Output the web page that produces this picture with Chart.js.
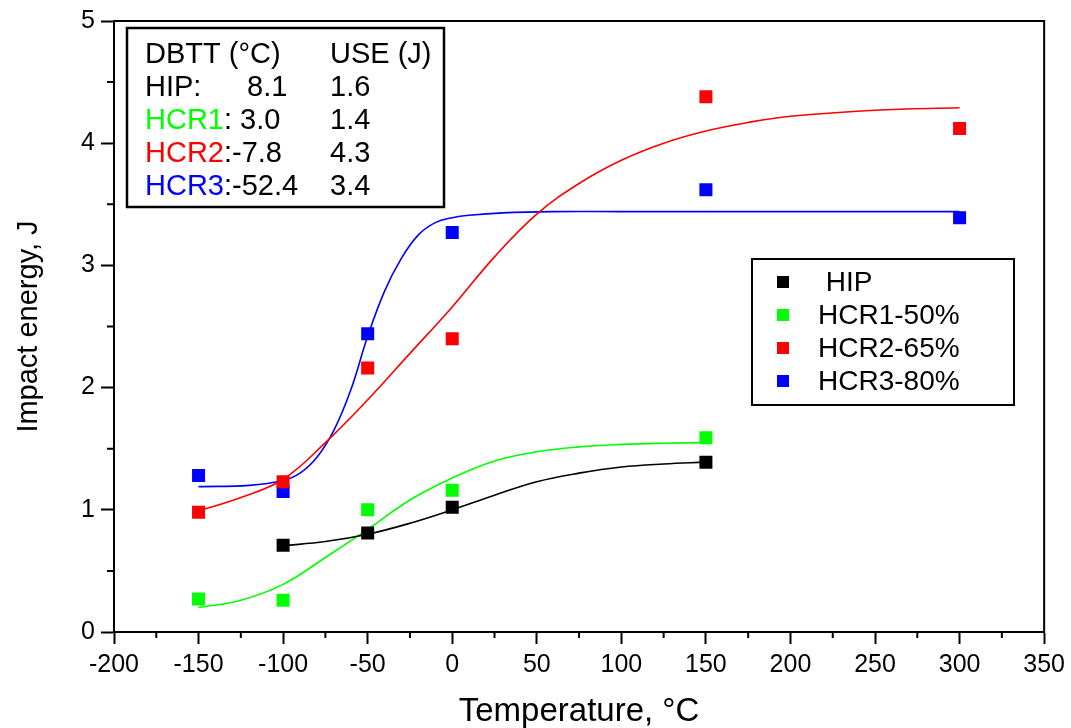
<!DOCTYPE html>
<html>
<head>
<meta charset="utf-8">
<script src="https://cdn.jsdelivr.net/npm/chart.js@4/dist/chart.umd.min.js"></script>
<style>
    html, body { margin: 0; padding: 0; background: #fff; }
    #wrap { width: 1071px; height: 728px; }
</style>
</head>
<body>
<div id="wrap"><canvas id="ImpactChart" width="1071" height="728"></canvas></div>
<script>
// measured points
const hipT = [-100, -50, 0, 150];
const hipE = [0.71, 0.81, 1.02, 1.39];
const hcr1T = [-150, -100, -50, 0, 150];
const hcr1E = [0.27, 0.26, 1.0, 1.16, 1.59];
const hcr2T = [-150, -100, -50, 0, 150, 300];
const hcr2E = [0.98, 1.23, 2.16, 2.40, 4.38, 4.12];
const hcr3T = [-150, -100, -50, 0, 150, 300];
const hcr3E = [1.28, 1.15, 2.44, 3.27, 3.62, 3.39];

// fitted curves
const hipFitT = [-100, -75, -50, -25, 0, 25, 50, 75, 100, 125, 150];
const hipFitE = [0.706, 0.74, 0.80, 0.89, 1.00, 1.12, 1.23, 1.30, 1.35, 1.375, 1.39];
const hcr1FitT = [-150, -125, -100, -75, -50, -25, 0, 25, 50, 75, 100, 125, 150];
const hcr1FitE = [0.20, 0.26, 0.39, 0.61, 0.84, 1.08, 1.26, 1.40, 1.475, 1.515, 1.535, 1.545, 1.55];
const hcr2FitT = [-150, -125, -100, -75, -50, -25, 0, 25, 50, 75, 100, 125, 150, 175, 200, 250, 300];
const hcr2FitE = [0.99, 1.10, 1.25, 1.55, 1.90, 2.28, 2.66, 3.07, 3.42, 3.67, 3.86, 4.00, 4.10, 4.17, 4.22, 4.27, 4.29];
const hcr3FitT = [-150, -120, -100, -90, -80, -70, -60, -50, -40, -30, -20, -10, 0, 10, 30, 60, 100, 150, 200, 250, 300];
const hcr3FitE = [1.19, 1.20, 1.24, 1.30, 1.43, 1.65, 1.98, 2.42, 2.79, 3.06, 3.25, 3.35, 3.39, 3.41, 3.43, 3.44, 3.44, 3.44, 3.44, 3.44, 3.44];

const seriesNames = [' HIP', 'HCR1-50%', 'HCR2-65%', 'HCR3-80%'];
const seriesColors = ['#000000', '#00ff00', '#ff0000', '#0000ff'];

// inset table
const tableHeader = ['DBTT (°C)', 'USE (J)'];
const tableNames = ['HIP', 'HCR1', 'HCR2', 'HCR3'];
const tableDbtt = ['8.1', '3.0', '-7.8', '-52.4'];
const tableUse = ['1.6', '1.4', '4.3', '3.4'];

const FONT = "'Liberation Sans', Arial, sans-serif";

const toXY = (xs, ys) => xs.map((x, i) => ({ x: x, y: ys[i] }));

const pointSet = (i, xs, ys) => ({
    label: seriesNames[i],
    data: toXY(xs, ys),
    showLine: false,
    pointStyle: 'rect',
    pointRadius: 9.2,
    pointHoverRadius: 9.2,
    backgroundColor: seriesColors[i],
    borderColor: seriesColors[i],
    borderWidth: 0,
    order: 0
});

const fitSet = (i, xs, ys) => ({
    label: seriesNames[i] + ' fit',
    data: toXY(xs, ys),
    showLine: true,
    borderColor: seriesColors[i],
    borderWidth: 1.6,
    pointRadius: 0,
    pointHoverRadius: 0,
    tension: 0.4,
    fill: false,
    order: 1
});

const decorPlugin = {
    id: 'decor',
    afterDraw(chart) {
        const ctx = chart.ctx;
        const area = chart.chartArea;
        const sx = chart.scales.x;
        const sy = chart.scales.y;

        ctx.save();
        ctx.strokeStyle = '#000';
        ctx.lineWidth = 2;

        // top and right frame
        ctx.beginPath();
        ctx.moveTo(area.left, area.top);
        ctx.lineTo(area.right, area.top);
        ctx.lineTo(area.right, area.bottom);
        ctx.stroke();

        // minor ticks
        ctx.beginPath();
        for (let v = -175; v < 350; v += 50) {
            const px = sx.getPixelForValue(v);
            ctx.moveTo(px, area.bottom);
            ctx.lineTo(px, area.bottom + 6);
        }
        for (let v = 0.5; v < 5; v += 1) {
            const py = sy.getPixelForValue(v);
            ctx.moveTo(area.left, py);
            ctx.lineTo(area.left - 7, py);
        }
        ctx.stroke();

        // inset table
        ctx.lineWidth = 2.5;
        ctx.strokeRect(127, 28, 317, 179);
        ctx.font = '29px ' + FONT;
        ctx.textBaseline = 'alphabetic';
        ctx.fillStyle = '#000';
        ctx.fillText(tableHeader[0], 145, 63);
        ctx.fillText(tableHeader[1], 330, 63);
        tableNames.forEach((name, i) => {
            const y = 96 + i * 33;
            ctx.fillStyle = i === 0 ? '#000' : seriesColors[i];
            ctx.fillText(name, 145, y);
            const w = ctx.measureText(name).width;
            ctx.fillStyle = '#000';
            if (i === 0) {
                ctx.fillText(':', 145 + w, y);
                ctx.fillText(tableDbtt[i], 247, y);
            } else {
                const sep = tableDbtt[i].startsWith('-') ? ':' : ': ';
                ctx.fillText(sep + tableDbtt[i], 145 + w, y);
            }
            ctx.fillText(tableUse[i], 330, y);
        });

        // legend
        ctx.lineWidth = 2;
        ctx.strokeRect(752, 259, 262, 146);
        ctx.font = '28px ' + FONT;
        ctx.textBaseline = 'middle';
        seriesNames.forEach((name, i) => {
            const y = 282 + i * 33;
            ctx.fillStyle = seriesColors[i];
            ctx.fillRect(777, y - 6, 12, 12);
            ctx.fillStyle = '#000';
            ctx.fillText(name, 818, y + 1);
        });

        ctx.restore();
    }
};

const renderChart = () => {
    const canvas = document.getElementById('ImpactChart').getContext('2d');

    new Chart(canvas, {
        type: 'scatter',
        data: {
            datasets: [
                pointSet(0, hipT, hipE),
                pointSet(1, hcr1T, hcr1E),
                pointSet(2, hcr2T, hcr2E),
                pointSet(3, hcr3T, hcr3E),
                fitSet(0, hipFitT, hipFitE),
                fitSet(1, hcr1FitT, hcr1FitE),
                fitSet(2, hcr2FitT, hcr2FitE),
                fitSet(3, hcr3FitT, hcr3FitE)
            ]
        },
        options: {
            responsive: false,
            animation: false,
            devicePixelRatio: 1,
            layout: {
                padding: { top: 16, right: 25, left: 0, bottom: 0 }
            },
            plugins: {
                legend: { display: false },
                tooltip: { enabled: false }
            },
            scales: {
                x: {
                    type: 'linear',
                    min: -200,
                    max: 350,
                    afterFit: s => { s.height = 96; },
                    border: { display: true, color: '#000', width: 2 },
                    grid: {
                        drawOnChartArea: false,
                        drawTicks: true,
                        tickLength: 12,
                        tickWidth: 2,
                        tickColor: '#000'
                    },
                    ticks: {
                        stepSize: 50,
                        autoSkip: false,
                        maxRotation: 0,
                        padding: 6,
                        color: '#000',
                        font: { family: FONT, size: 25 }
                    },
                    title: {
                        display: true,
                        text: 'Temperature, °C',
                        color: '#000',
                        padding: { top: 0, bottom: 0 },
                        font: { family: FONT, size: 33, lineHeight: 1 }
                    }
                },
                y: {
                    min: 0,
                    max: 5,
                    afterFit: s => { s.width = 114; },
                    border: { display: true, color: '#000', width: 2 },
                    grid: {
                        drawOnChartArea: false,
                        drawTicks: true,
                        tickLength: 13,
                        tickWidth: 2,
                        tickColor: '#000'
                    },
                    ticks: {
                        stepSize: 1,
                        padding: 6,
                        color: '#000',
                        font: { family: FONT, size: 25 }
                    },
                    title: {
                        display: true,
                        text: 'Impact energy, J',
                        color: '#000',
                        padding: { top: 14, bottom: 0 },
                        font: { family: FONT, size: 29, lineHeight: 1 }
                    }
                }
            }
        },
        plugins: [decorPlugin]
    });
}

renderChart();
</script>
</body>
</html>
